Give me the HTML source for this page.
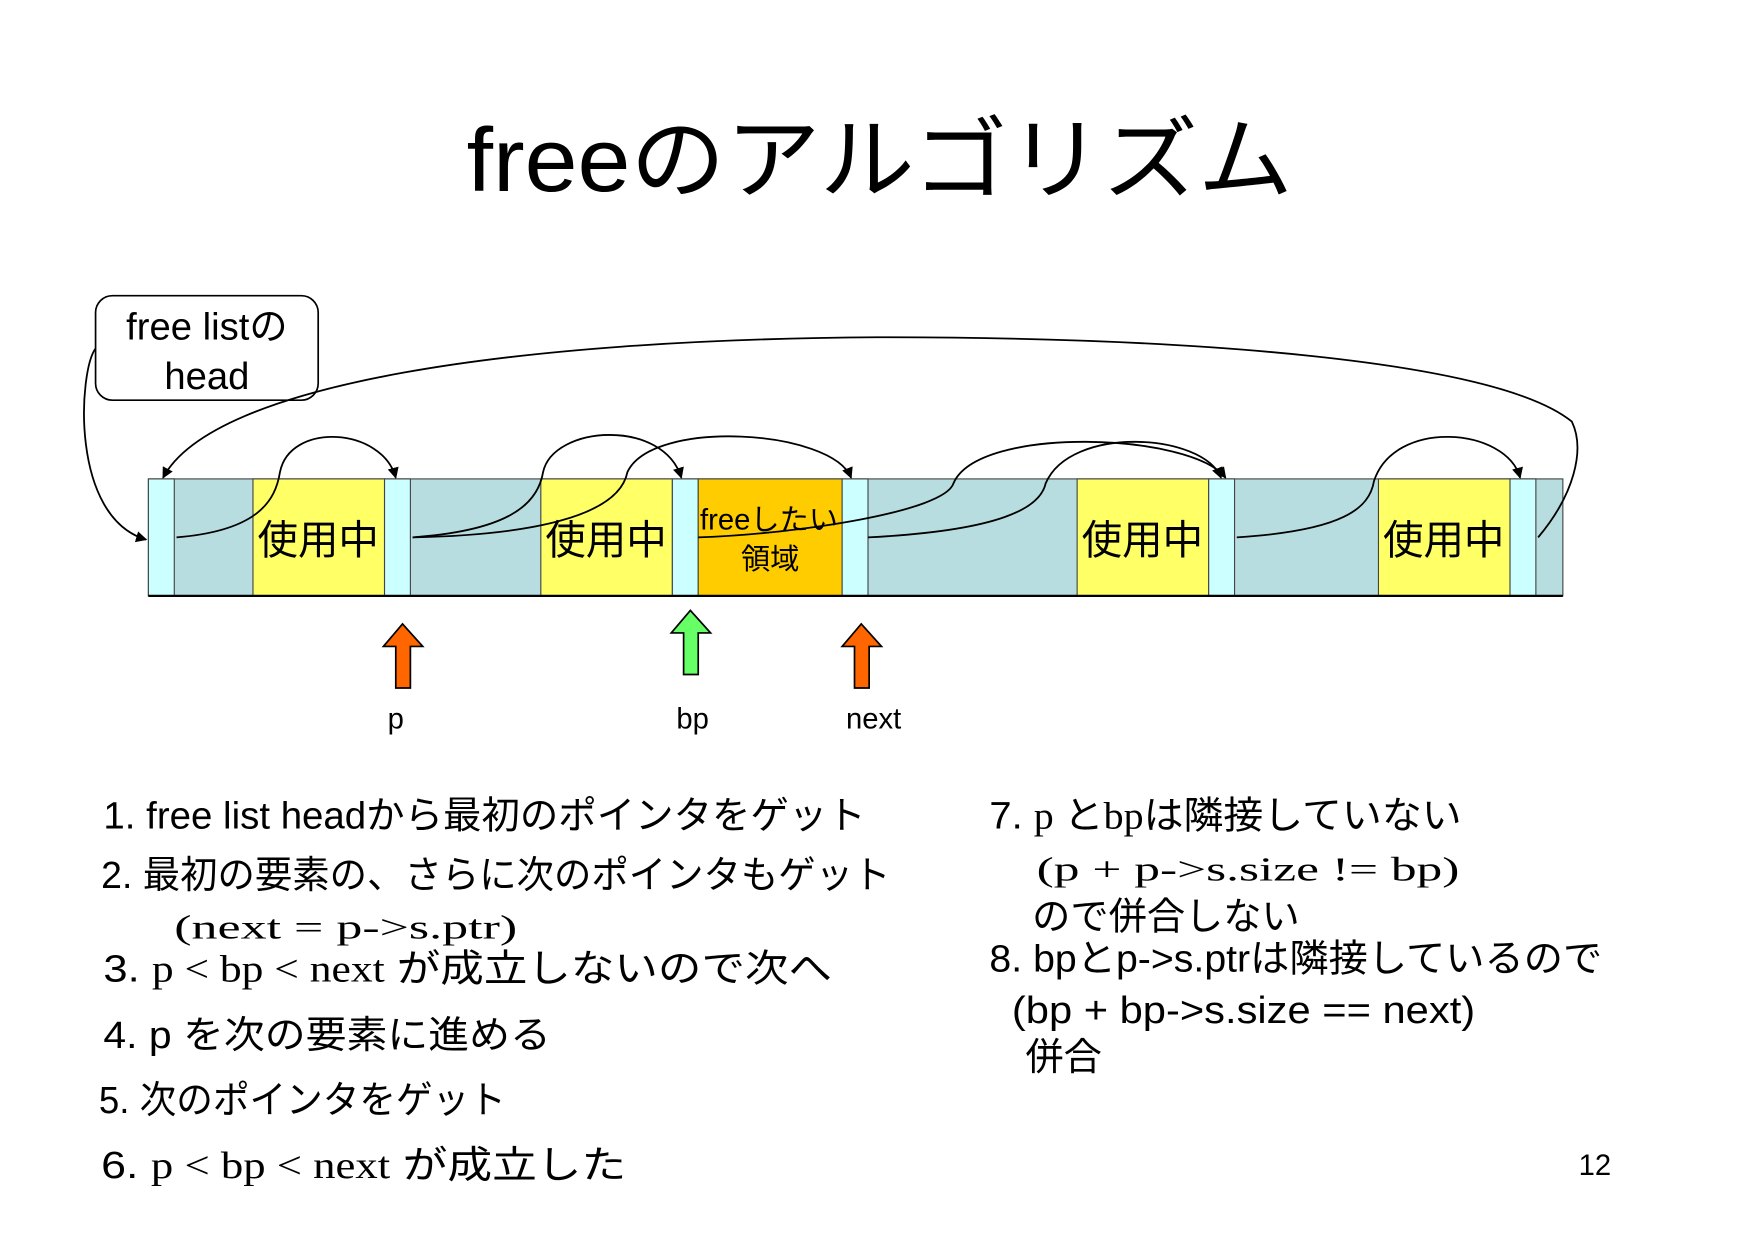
<!DOCTYPE html>
<html><head><meta charset="utf-8"><style>
html,body{margin:0;padding:0;background:#fff;}
svg{display:block;}
text{font-family:"Liberation Sans","Noto Sans CJK JP",sans-serif;fill:#000;}
.s{font-family:"Liberation Serif","Noto Serif CJK SC",serif;}
</style></head><body>
<svg width="1754" height="1240" viewBox="0 0 1560 1103" preserveAspectRatio="none" xmlns="http://www.w3.org/2000/svg">
<defs><marker id="ah" markerWidth="10" markerHeight="10" refX="9" refY="5" orient="auto" markerUnits="userSpaceOnUse"><path d="M0,0 L10,5 L0,10 z" fill="#000"/></marker></defs>
<text x="415" y="170" font-size="80" textLength="735" lengthAdjust="spacingAndGlyphs">freeのアルゴリズム</text>
<rect x="85" y="263" width="198" height="93" rx="15" fill="#fff" stroke="#000" stroke-width="1.5"/>
<text x="184" y="302" font-size="34" text-anchor="middle">free listの</text>
<text x="184" y="346" font-size="34" text-anchor="middle">head</text>
<g stroke="#444" stroke-width="1">
<rect x="132" y="426" width="1258" height="104" fill="#b8dde0"/>
<rect x="132" y="426" width="23" height="104" fill="#ccffff"/>
<rect x="225" y="426" width="117" height="104" fill="#ffff66"/>
<rect x="342" y="426" width="23" height="104" fill="#ccffff"/>
<rect x="481" y="426" width="117" height="104" fill="#ffff66"/>
<rect x="598" y="426" width="23" height="104" fill="#ccffff"/>
<rect x="621" y="426" width="128" height="104" fill="#ffcc00"/>
<rect x="749" y="426" width="23" height="104" fill="#ccffff"/>
<rect x="958" y="426" width="117" height="104" fill="#ffff66"/>
<rect x="1075" y="426" width="23" height="104" fill="#ccffff"/>
<rect x="1226" y="426" width="117" height="104" fill="#ffff66"/>
<rect x="1343" y="426" width="23" height="104" fill="#ccffff"/>
</g>
<line x1="132" y1="530" x2="1390" y2="530" stroke="#000" stroke-width="2"/>
<text x="283" y="493" font-size="36" text-anchor="middle">使用中</text>
<text x="539" y="493" font-size="36" text-anchor="middle">使用中</text>
<text x="1016" y="493" font-size="36" text-anchor="middle">使用中</text>
<text x="1284" y="493" font-size="36" text-anchor="middle">使用中</text>
<text x="684" y="471" font-size="26" text-anchor="middle">freeしたい</text>
<text x="685" y="506" font-size="26" text-anchor="middle">領域</text>
<g fill="none" stroke="#000" stroke-width="1.6" marker-end="url(#ah)">
<path d="M85,310 C70,330 62,460 130,480"/>
<path d="M1368,478 C1400,440 1410,400 1398,375 C1330,320 1060,300 780,300 C460,302 190,340 145,425"/>
<path d="M157,478 C230,472 245,445 249,420 C258,375 340,380 352,425"/>
<path d="M367,478 C450,472 478,450 483,420 C492,378 590,372 606,425"/>
<path d="M367,478 C470,476 550,460 558,420 C580,372 740,382 757,425"/>
<path d="M621,478 C710,475 840,455 848,430 C870,378 1060,385 1090,425"/>
<path d="M772,478 C890,472 925,452 930,430 C952,378 1070,385 1086,425"/>
<path d="M1100,478 C1195,472 1218,452 1222,428 C1240,372 1340,380 1352,425"/>
</g>
<g stroke="#000" stroke-width="1.5">
<path d="M352,612 L352,575 L341,575 L358,555 L376,575 L365,575 L365,612 Z" fill="#ff6600"/>
<path d="M608,600 L608,563 L597,563 L614,543 L632,563 L621,563 L621,600 Z" fill="#66ff66"/>
<path d="M760,612 L760,575 L749,575 L766,555 L784,575 L773,575 L773,612 Z" fill="#ff6600"/>
</g>
<text x="352" y="648" font-size="26" text-anchor="middle">p</text>
<text x="616" y="648" font-size="26" text-anchor="middle">bp</text>
<text x="777" y="648" font-size="26" text-anchor="middle">next</text>
<g font-size="34">
<text x="92" y="737" textLength="678" lengthAdjust="spacingAndGlyphs">1. free list headから最初のポインタをゲット</text>
<text x="90" y="790" textLength="702" lengthAdjust="spacingAndGlyphs">2. 最初の要素の、さらに次のポインタもゲット</text>
<text class="s" x="155" y="835" font-size="30" textLength="305" lengthAdjust="spacingAndGlyphs">(next = p-&gt;s.ptr)</text>
<text x="92" y="873" textLength="648" lengthAdjust="spacingAndGlyphs">3. <tspan class="s">p &lt; bp &lt; next</tspan> が成立しないので次へ</text>
<text x="92" y="932" textLength="398" lengthAdjust="spacingAndGlyphs">4. p を次の要素に進める</text>
<text x="88" y="990" textLength="362" lengthAdjust="spacingAndGlyphs">5. 次のポインタをゲット</text>
<text x="90" y="1048" textLength="467" lengthAdjust="spacingAndGlyphs">6. <tspan class="s">p &lt; bp &lt; next</tspan> が成立した</text>
<text x="880" y="737" textLength="420" lengthAdjust="spacingAndGlyphs">7. <tspan class="s">p </tspan>と<tspan class="s">bp</tspan>は隣接していない</text>
<text class="s" x="922" y="783" font-size="30" textLength="376" lengthAdjust="spacingAndGlyphs">(p + p-&gt;s.size != bp)</text>
<text x="918" y="827" textLength="238" lengthAdjust="spacingAndGlyphs">ので併合しない</text>
<text x="880" y="864" textLength="545" lengthAdjust="spacingAndGlyphs">8. bpとp-&gt;s.ptrは隣接しているので</text>
<text x="900" y="910" textLength="412" lengthAdjust="spacingAndGlyphs">(bp + bp-&gt;s.size == next)</text>
<text x="912" y="952">併合</text>
</g>
<text x="1404" y="1045" font-size="26">12</text>
</svg>
</body></html>
